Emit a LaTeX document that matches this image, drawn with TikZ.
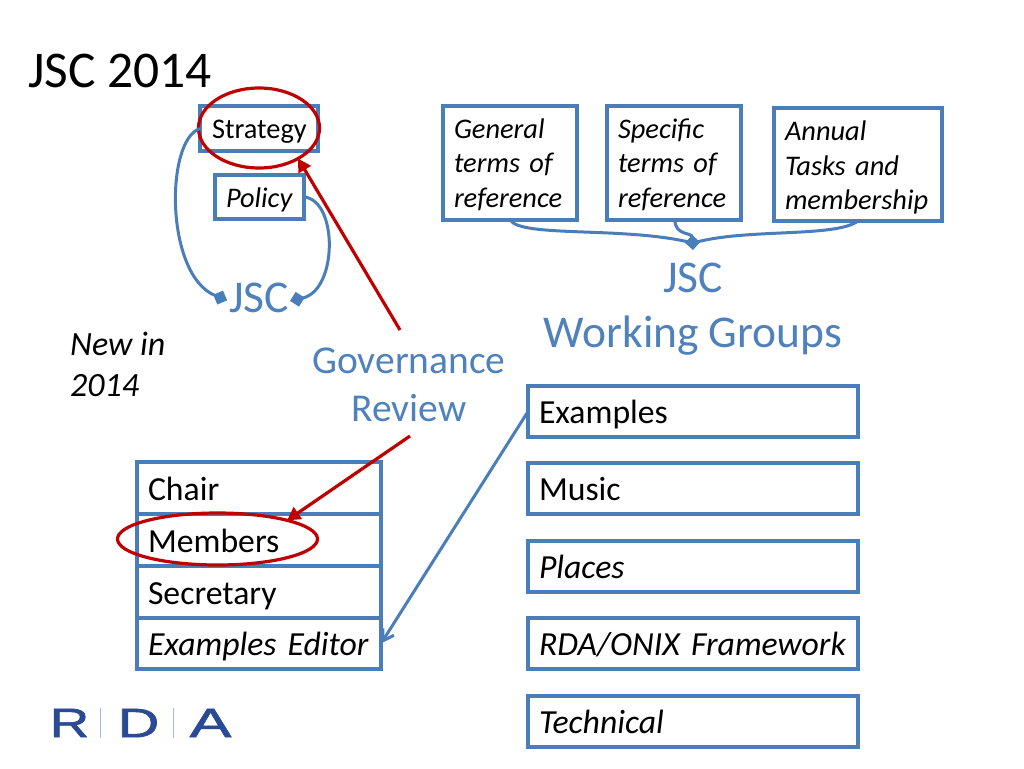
\documentclass[tikz,border=0pt]{standalone}
\usepackage{fontspec}
\setmainfont{Carlito}
\newfontfamily\logofont[FakeBold=1.3]{Liberation Sans}
\usetikzlibrary{arrows.meta,shapes.geometric}
\definecolor{blueline}{HTML}{4A7EBB}
\definecolor{bluetext}{HTML}{4F81BD}
\definecolor{redline}{HTML}{C00000}
\definecolor{logoblue}{HTML}{2B4A96}
\definecolor{logobar}{HTML}{9DBBDD}
\newcommand{\fs}[1]{\fontsize{#1}{#1}\selectfont}
\tikzset{
  x=1pt,y=-1pt,
  boxbase/.style={draw=blueline,line width=3.1pt,fill=white,anchor=north west,outer sep=0pt,inner xsep=11pt,inner ysep=0pt,align=left,text=black},
  big/.style={boxbase,font=\fs{33.7},minimum height=#1,text height=24pt,text depth=0pt},
  small/.style={boxbase,font=\fs{28.4},minimum height=#1},
  oneline/.style={text height=#1,text depth=0pt},
  ring/.style={draw=redline,line width=3.2pt,ellipse,inner sep=0pt,outer sep=0pt},
  blink/.style={draw=blueline,line width=3pt},
  dlink/.style={blink,-{Diamond[length=15pt,width=15pt]}},
  rlink/.style={draw=redline,line width=3.2pt,-{Triangle[length=13pt,width=14pt]}},
  bluetxt/.style={text=bluetext,align=center,inner sep=0pt},
  plain/.style={align=left,inner sep=0pt,anchor=west,text=black},
  logo/.style={text=logoblue,inner sep=0pt,font=\logofont\fs{41}},
}
\begin{document}
\begin{tikzpicture}
\useasboundingbox (0,0) rectangle (1024,768);
\fill[white] (0,0) rectangle (1024,768);
% title
\node[plain,font=\fs{51.5}] (title) at (28,71) {JSC 2014};
% top left boxes
\node[small=45pt,oneline=19.6pt,inner xsep=12pt,text width=94pt] (strategy) at (200,106) {Strategy};
\node[small=44pt,oneline=21.4pt,text width=67pt,font=\fs{28.4}\itshape] (policy) at (215,175) {Policy};
\node[bluetxt,font=\fs{45.5}] (jsc) at (259,298) {JSC};
% top right boxes
\node[small=114pt,text width=112pt,font=\fs{28.4}\itshape] (general) at (443,106) {\rule{0pt}{23pt}General\\[6pt]terms of\\[6pt]reference};
\node[small=114pt,text width=112pt,font=\fs{28.4}\itshape] (specific) at (607,106) {\rule{0pt}{23pt}Specific\\[6pt]terms of\\[6pt]reference};
\node[small=113pt,text width=146pt,font=\fs{28.4}\itshape] (annual) at (774,108) {\rule{0pt}{25.7pt}Annual\\[6pt]Tasks and\\[6pt]membership};
\node[bluetxt,font=\fs{45.5}] (wg) at (693,309) {JSC\\[10pt]Working Groups};
\coordinate (hubc) at (693,243);
\coordinate (hub) at (693,250);
% notes
\node[plain,font=\fs{34}\itshape] (newin) at (70,364) {New in\\[7pt]2014};
\node[bluetxt,font=\fs{39.5}] (gov) at (409,385) {Governance\\[9pt]Review};
% left stack
\node[big=52pt,text width=222pt] (chair) at (137,462) {Chair};
\node[big=52pt,text width=222pt] (members) at (137,514) {Members};
\node[big=52pt,text width=222pt] (secretary) at (137,566) {Secretary};
\node[big=51pt,text width=222pt,font=\fs{33.7}\itshape] (editor) at (137,618) {Examples Editor};
% right stack
\node[big=51pt,text width=308pt] (examples) at (528,386) {Examples};
\node[big=51pt,text width=308pt] (music) at (528,463) {Music};
\node[big=51pt,text width=308pt,font=\fs{33.7}\itshape] (places) at (528,541) {Places};
\node[big=51pt,text width=308pt,font=\fs{33.7}\itshape] (onix) at (528,618) {RDA/ONIX Framework};
\node[big=51pt,text width=308pt,font=\fs{33.7}\itshape] (technical) at (528,696) {Technical};
% rings
\node[ring,minimum width=121pt,minimum height=80pt] (stratring) at (259,128) {};
\node[ring,minimum width=200pt,minimum height=52pt] (memring) at (217.5,539) {};
% blue connectors
\draw[dlink,shorten >=2pt] (strategy.west) .. controls (165,140) and (165,275) .. (jsc.186);
\draw[dlink,shorten >=1pt] (policy.east) .. controls (338,200) and (338,290) .. (jsc.-6);
\coordinate (gs) at (510,220);
\coordinate (ss) at (675,220);
\coordinate (as) at (858,221);
\draw[blink] (gs) .. controls (522,238) and (625,226) .. (hubc);
\draw[blink] (as) .. controls (835,238) and (745,228) .. (hubc);
\draw[dlink] (ss) .. controls (675,236) and (692,232) .. (hub);
\draw[blink,-{Straight Barb[length=11pt,width=13pt]}] (examples.west) -- (editor.east);
% red connectors
\coordinate (govtop) at (400,330);
\coordinate (govbot) at (410,436);
\draw[rlink] (govtop) -- (stratring.-38);
\draw[rlink] (govbot) -- (memring.15);
% logo
\node[logo,xscale=1.34] (logoR) at (69.5,723) {R};
\node[logo,xscale=1.41] (logoD) at (138.5,723) {D};
\node[logo,xscale=1.53] (logoA) at (210.5,723) {A};
\fill[logobar] (100,708) rectangle (101,738);
\fill[logobar] (173,708) rectangle (174,738);
\end{tikzpicture}
\end{document}
